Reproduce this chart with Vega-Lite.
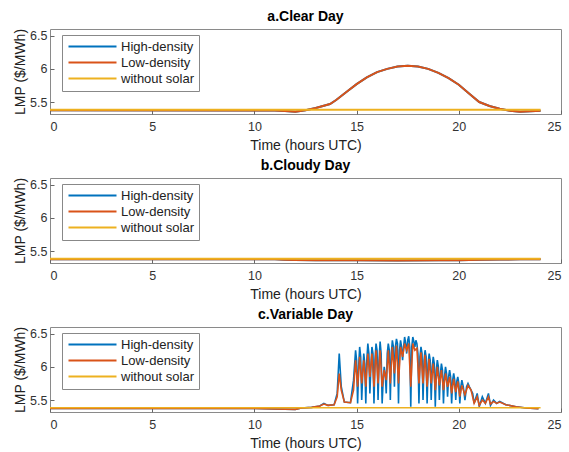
{
"$schema": "https://vega.github.io/schema/vega-lite/v6.json",
"padding": {"left": 13, "top": 9, "right": 0, "bottom": 0},
"background": "white",
"datasets": {
"clear": [
{"series":"High-density","time":0,"lmp":5.375},{"series":"High-density","time":11,"lmp":5.372},{"series":"High-density","time":11.5,"lmp":5.366},{"series":"High-density","time":12,"lmp":5.355},{"series":"High-density","time":12.5,"lmp":5.375},{"series":"High-density","time":13,"lmp":5.41},{"series":"High-density","time":13.7,"lmp":5.47},{"series":"High-density","time":14,"lmp":5.53},{"series":"High-density","time":14.5,"lmp":5.65},{"series":"High-density","time":15,"lmp":5.77},{"series":"High-density","time":15.5,"lmp":5.87},{"series":"High-density","time":16,"lmp":5.95},{"series":"High-density","time":16.5,"lmp":6.0},{"series":"High-density","time":17,"lmp":6.035},{"series":"High-density","time":17.5,"lmp":6.045},{"series":"High-density","time":18,"lmp":6.035},{"series":"High-density","time":18.5,"lmp":6.0},{"series":"High-density","time":19,"lmp":5.94},{"series":"High-density","time":19.5,"lmp":5.86},{"series":"High-density","time":20,"lmp":5.76},{"series":"High-density","time":20.5,"lmp":5.63},{"series":"High-density","time":21,"lmp":5.5},{"series":"High-density","time":21.5,"lmp":5.44},{"series":"High-density","time":22,"lmp":5.4},{"series":"High-density","time":22.5,"lmp":5.37},{"series":"High-density","time":23,"lmp":5.355},{"series":"High-density","time":23.5,"lmp":5.36},{"series":"High-density","time":24,"lmp":5.37},
{"series":"Low-density","time":0,"lmp":5.375},{"series":"Low-density","time":11,"lmp":5.372},{"series":"Low-density","time":11.5,"lmp":5.366},{"series":"Low-density","time":12,"lmp":5.355},{"series":"Low-density","time":12.5,"lmp":5.375},{"series":"Low-density","time":13,"lmp":5.41},{"series":"Low-density","time":13.7,"lmp":5.47},{"series":"Low-density","time":14,"lmp":5.53},{"series":"Low-density","time":14.5,"lmp":5.65},{"series":"Low-density","time":15,"lmp":5.77},{"series":"Low-density","time":15.5,"lmp":5.87},{"series":"Low-density","time":16,"lmp":5.95},{"series":"Low-density","time":16.5,"lmp":6.0},{"series":"Low-density","time":17,"lmp":6.035},{"series":"Low-density","time":17.5,"lmp":6.045},{"series":"Low-density","time":18,"lmp":6.035},{"series":"Low-density","time":18.5,"lmp":6.0},{"series":"Low-density","time":19,"lmp":5.94},{"series":"Low-density","time":19.5,"lmp":5.86},{"series":"Low-density","time":20,"lmp":5.76},{"series":"Low-density","time":20.5,"lmp":5.63},{"series":"Low-density","time":21,"lmp":5.5},{"series":"Low-density","time":21.5,"lmp":5.44},{"series":"Low-density","time":22,"lmp":5.4},{"series":"Low-density","time":22.5,"lmp":5.37},{"series":"Low-density","time":23,"lmp":5.355},{"series":"Low-density","time":23.5,"lmp":5.36},{"series":"Low-density","time":24,"lmp":5.37},
{"series":"without solar","time":0,"lmp":5.385},{"series":"without solar","time":24,"lmp":5.385}
],
"cloudy": [
{"series":"High-density","time":0,"lmp":5.378},{"series":"High-density","time":11,"lmp":5.375},{"series":"High-density","time":11.5,"lmp":5.37},{"series":"High-density","time":12,"lmp":5.365},{"series":"High-density","time":13,"lmp":5.362},{"series":"High-density","time":15,"lmp":5.36},{"series":"High-density","time":17,"lmp":5.358},{"series":"High-density","time":19,"lmp":5.36},{"series":"High-density","time":20,"lmp":5.363},{"series":"High-density","time":21,"lmp":5.368},{"series":"High-density","time":22,"lmp":5.373},{"series":"High-density","time":23,"lmp":5.376},{"series":"High-density","time":24,"lmp":5.378},
{"series":"Low-density","time":0,"lmp":5.378},{"series":"Low-density","time":11,"lmp":5.375},{"series":"Low-density","time":11.5,"lmp":5.37},{"series":"Low-density","time":12,"lmp":5.365},{"series":"Low-density","time":13,"lmp":5.362},{"series":"Low-density","time":15,"lmp":5.36},{"series":"Low-density","time":17,"lmp":5.358},{"series":"Low-density","time":19,"lmp":5.36},{"series":"Low-density","time":20,"lmp":5.363},{"series":"Low-density","time":21,"lmp":5.368},{"series":"Low-density","time":22,"lmp":5.373},{"series":"Low-density","time":23,"lmp":5.376},{"series":"Low-density","time":24,"lmp":5.378},
{"series":"without solar","time":0,"lmp":5.385},{"series":"without solar","time":24,"lmp":5.385}
],
"variable": [
{"series":"High-density","time":0,"lmp":5.375},{"series":"High-density","time":10,"lmp":5.372},{"series":"High-density","time":11,"lmp":5.366},{"series":"High-density","time":12,"lmp":5.36},{"series":"High-density","time":12.3,"lmp":5.38},{"series":"High-density","time":12.8,"lmp":5.39},{"series":"High-density","time":13.2,"lmp":5.41},{"series":"High-density","time":13.4,"lmp":5.45},{"series":"High-density","time":13.6,"lmp":5.42},{"series":"High-density","time":13.9,"lmp":5.43},{"series":"High-density","time":14.05,"lmp":5.6},{"series":"High-density","time":14.15,"lmp":6.2},{"series":"High-density","time":14.25,"lmp":5.7},{"series":"High-density","time":14.4,"lmp":5.47},{"series":"High-density","time":14.7,"lmp":5.46},{"series":"High-density","time":14.85,"lmp":5.8},{"series":"High-density","time":14.95,"lmp":6.25},{"series":"High-density","time":15.0,"lmp":6.1},{"series":"High-density","time":15.05,"lmp":5.45},{"series":"High-density","time":15.1,"lmp":6.0},{"series":"High-density","time":15.15,"lmp":6.3},{"series":"High-density","time":15.2,"lmp":6.15},{"series":"High-density","time":15.25,"lmp":5.5},{"series":"High-density","time":15.3,"lmp":5.9},{"series":"High-density","time":15.35,"lmp":6.2},{"series":"High-density","time":15.4,"lmp":6.05},{"series":"High-density","time":15.45,"lmp":5.45},{"series":"High-density","time":15.5,"lmp":6.1},{"series":"High-density","time":15.55,"lmp":6.35},{"series":"High-density","time":15.6,"lmp":6.2},{"series":"High-density","time":15.65,"lmp":5.6},{"series":"High-density","time":15.7,"lmp":6.0},{"series":"High-density","time":15.75,"lmp":6.3},{"series":"High-density","time":15.8,"lmp":6.2},{"series":"High-density","time":15.85,"lmp":5.45},{"series":"High-density","time":15.9,"lmp":6.1},{"series":"High-density","time":15.95,"lmp":6.35},{"series":"High-density","time":16.0,"lmp":6.25},{"series":"High-density","time":16.05,"lmp":5.5},{"series":"High-density","time":16.1,"lmp":6.1},{"series":"High-density","time":16.15,"lmp":6.38},{"series":"High-density","time":16.2,"lmp":6.2},{"series":"High-density","time":16.25,"lmp":5.45},{"series":"High-density","time":16.3,"lmp":5.8},{"series":"High-density","time":16.35,"lmp":6.0},{"series":"High-density","time":16.4,"lmp":5.9},{"series":"High-density","time":16.45,"lmp":5.6},{"series":"High-density","time":16.5,"lmp":6.2},{"series":"High-density","time":16.55,"lmp":6.35},{"series":"High-density","time":16.6,"lmp":6.25},{"series":"High-density","time":16.65,"lmp":5.5},{"series":"High-density","time":16.7,"lmp":6.2},{"series":"High-density","time":16.75,"lmp":6.4},{"series":"High-density","time":16.8,"lmp":6.3},{"series":"High-density","time":16.85,"lmp":5.7},{"series":"High-density","time":16.9,"lmp":6.3},{"series":"High-density","time":16.95,"lmp":6.42},{"series":"High-density","time":17.0,"lmp":6.35},{"series":"High-density","time":17.05,"lmp":5.45},{"series":"High-density","time":17.1,"lmp":6.25},{"series":"High-density","time":17.15,"lmp":6.4},{"series":"High-density","time":17.2,"lmp":6.3},{"series":"High-density","time":17.25,"lmp":6.1},{"series":"High-density","time":17.3,"lmp":6.3},{"series":"High-density","time":17.35,"lmp":6.45},{"series":"High-density","time":17.4,"lmp":6.35},{"series":"High-density","time":17.45,"lmp":6.2},{"series":"High-density","time":17.5,"lmp":6.4},{"series":"High-density","time":17.55,"lmp":6.46},{"series":"High-density","time":17.6,"lmp":6.3},{"series":"High-density","time":17.65,"lmp":5.4},{"series":"High-density","time":17.7,"lmp":6.3},{"series":"High-density","time":17.75,"lmp":6.45},{"series":"High-density","time":17.8,"lmp":6.38},{"series":"High-density","time":17.85,"lmp":6.3},{"series":"High-density","time":17.9,"lmp":6.4},{"series":"High-density","time":17.95,"lmp":6.35},{"series":"High-density","time":18.0,"lmp":6.2},{"series":"High-density","time":18.05,"lmp":5.45},{"series":"High-density","time":18.1,"lmp":6.15},{"series":"High-density","time":18.15,"lmp":6.3},{"series":"High-density","time":18.2,"lmp":6.2},{"series":"High-density","time":18.25,"lmp":5.5},{"series":"High-density","time":18.3,"lmp":6.1},{"series":"High-density","time":18.35,"lmp":6.25},{"series":"High-density","time":18.4,"lmp":6.15},{"series":"High-density","time":18.45,"lmp":5.45},{"series":"High-density","time":18.5,"lmp":6.05},{"series":"High-density","time":18.55,"lmp":6.2},{"series":"High-density","time":18.6,"lmp":6.1},{"series":"High-density","time":18.65,"lmp":5.5},{"series":"High-density","time":18.7,"lmp":6.0},{"series":"High-density","time":18.75,"lmp":6.15},{"series":"High-density","time":18.8,"lmp":6.05},{"series":"High-density","time":18.85,"lmp":5.4},{"series":"High-density","time":18.9,"lmp":5.95},{"series":"High-density","time":18.95,"lmp":6.1},{"series":"High-density","time":19.0,"lmp":6.0},{"series":"High-density","time":19.05,"lmp":5.5},{"series":"High-density","time":19.1,"lmp":5.9},{"series":"High-density","time":19.15,"lmp":6.05},{"series":"High-density","time":19.2,"lmp":5.95},{"series":"High-density","time":19.25,"lmp":5.45},{"series":"High-density","time":19.3,"lmp":5.85},{"series":"High-density","time":19.35,"lmp":6.0},{"series":"High-density","time":19.4,"lmp":5.9},{"series":"High-density","time":19.45,"lmp":5.55},{"series":"High-density","time":19.5,"lmp":5.85},{"series":"High-density","time":19.55,"lmp":5.95},{"series":"High-density","time":19.6,"lmp":5.85},{"series":"High-density","time":19.65,"lmp":5.45},{"series":"High-density","time":19.7,"lmp":5.8},{"series":"High-density","time":19.75,"lmp":5.9},{"series":"High-density","time":19.8,"lmp":5.8},{"series":"High-density","time":19.85,"lmp":5.5},{"series":"High-density","time":19.9,"lmp":5.78},{"series":"High-density","time":19.95,"lmp":5.85},{"series":"High-density","time":20.0,"lmp":5.75},{"series":"High-density","time":20.05,"lmp":5.45},{"series":"High-density","time":20.1,"lmp":5.7},{"series":"High-density","time":20.15,"lmp":5.8},{"series":"High-density","time":20.22,"lmp":5.7},{"series":"High-density","time":20.3,"lmp":5.5},{"series":"High-density","time":20.38,"lmp":5.7},{"series":"High-density","time":20.45,"lmp":5.75},{"series":"High-density","time":20.52,"lmp":5.7},{"series":"High-density","time":20.6,"lmp":5.65},{"series":"High-density","time":20.68,"lmp":5.6},{"series":"High-density","time":20.75,"lmp":5.45},{"series":"High-density","time":20.9,"lmp":5.6},{"series":"High-density","time":21.0,"lmp":5.4},{"series":"High-density","time":21.15,"lmp":5.55},{"series":"High-density","time":21.3,"lmp":5.45},{"series":"High-density","time":21.45,"lmp":5.6},{"series":"High-density","time":21.55,"lmp":5.42},{"series":"High-density","time":21.7,"lmp":5.5},{"series":"High-density","time":21.85,"lmp":5.45},{"series":"High-density","time":22.0,"lmp":5.48},{"series":"High-density","time":22.3,"lmp":5.43},{"series":"High-density","time":22.8,"lmp":5.4},{"series":"High-density","time":23.3,"lmp":5.38},{"series":"High-density","time":23.9,"lmp":5.37},
{"series":"Low-density","time":0,"lmp":5.375},{"series":"Low-density","time":10,"lmp":5.372},{"series":"Low-density","time":11,"lmp":5.366},{"series":"Low-density","time":12,"lmp":5.36},{"series":"Low-density","time":12.3,"lmp":5.38},{"series":"Low-density","time":12.8,"lmp":5.39},{"series":"Low-density","time":13.2,"lmp":5.41},{"series":"Low-density","time":13.4,"lmp":5.44},{"series":"Low-density","time":13.6,"lmp":5.42},{"series":"Low-density","time":13.9,"lmp":5.43},{"series":"Low-density","time":14.05,"lmp":5.55},{"series":"Low-density","time":14.15,"lmp":5.9},{"series":"Low-density","time":14.25,"lmp":5.65},{"series":"Low-density","time":14.4,"lmp":5.47},{"series":"Low-density","time":14.7,"lmp":5.46},{"series":"Low-density","time":14.85,"lmp":5.65},{"series":"Low-density","time":14.95,"lmp":6.1},{"series":"Low-density","time":15.05,"lmp":5.7},{"series":"Low-density","time":15.15,"lmp":6.15},{"series":"Low-density","time":15.25,"lmp":5.75},{"series":"Low-density","time":15.35,"lmp":6.1},{"series":"Low-density","time":15.45,"lmp":5.7},{"series":"Low-density","time":15.55,"lmp":6.2},{"series":"Low-density","time":15.65,"lmp":5.85},{"series":"Low-density","time":15.75,"lmp":6.2},{"series":"Low-density","time":15.85,"lmp":5.7},{"series":"Low-density","time":15.95,"lmp":6.25},{"series":"Low-density","time":16.05,"lmp":5.75},{"series":"Low-density","time":16.15,"lmp":6.25},{"series":"Low-density","time":16.25,"lmp":5.7},{"series":"Low-density","time":16.35,"lmp":5.95},{"series":"Low-density","time":16.45,"lmp":5.8},{"series":"Low-density","time":16.55,"lmp":6.25},{"series":"Low-density","time":16.65,"lmp":5.75},{"series":"Low-density","time":16.75,"lmp":6.3},{"series":"Low-density","time":16.85,"lmp":5.9},{"series":"Low-density","time":16.95,"lmp":6.32},{"series":"Low-density","time":17.05,"lmp":5.75},{"series":"Low-density","time":17.15,"lmp":6.3},{"series":"Low-density","time":17.25,"lmp":6.15},{"series":"Low-density","time":17.35,"lmp":6.35},{"series":"Low-density","time":17.45,"lmp":6.25},{"series":"Low-density","time":17.55,"lmp":6.35},{"series":"Low-density","time":17.65,"lmp":5.7},{"series":"Low-density","time":17.75,"lmp":6.35},{"series":"Low-density","time":17.85,"lmp":6.25},{"series":"Low-density","time":17.95,"lmp":6.28},{"series":"Low-density","time":18.05,"lmp":5.75},{"series":"Low-density","time":18.15,"lmp":6.22},{"series":"Low-density","time":18.25,"lmp":5.75},{"series":"Low-density","time":18.35,"lmp":6.18},{"series":"Low-density","time":18.45,"lmp":5.7},{"series":"Low-density","time":18.55,"lmp":6.12},{"series":"Low-density","time":18.65,"lmp":5.75},{"series":"Low-density","time":18.75,"lmp":6.05},{"series":"Low-density","time":18.85,"lmp":5.65},{"series":"Low-density","time":18.95,"lmp":6.0},{"series":"Low-density","time":19.05,"lmp":5.72},{"series":"Low-density","time":19.15,"lmp":5.95},{"series":"Low-density","time":19.25,"lmp":5.65},{"series":"Low-density","time":19.35,"lmp":5.9},{"series":"Low-density","time":19.45,"lmp":5.7},{"series":"Low-density","time":19.55,"lmp":5.85},{"series":"Low-density","time":19.65,"lmp":5.6},{"series":"Low-density","time":19.75,"lmp":5.82},{"series":"Low-density","time":19.85,"lmp":5.62},{"series":"Low-density","time":19.95,"lmp":5.78},{"series":"Low-density","time":20.05,"lmp":5.55},{"series":"Low-density","time":20.15,"lmp":5.72},{"series":"Low-density","time":20.3,"lmp":5.58},{"series":"Low-density","time":20.45,"lmp":5.72},{"series":"Low-density","time":20.6,"lmp":5.65},{"series":"Low-density","time":20.75,"lmp":5.45},{"series":"Low-density","time":20.9,"lmp":5.55},{"series":"Low-density","time":21.0,"lmp":5.42},{"series":"Low-density","time":21.15,"lmp":5.5},{"series":"Low-density","time":21.3,"lmp":5.45},{"series":"Low-density","time":21.45,"lmp":5.55},{"series":"Low-density","time":21.55,"lmp":5.44},{"series":"Low-density","time":21.7,"lmp":5.48},{"series":"Low-density","time":21.85,"lmp":5.45},{"series":"Low-density","time":22.0,"lmp":5.47},{"series":"Low-density","time":22.3,"lmp":5.43},{"series":"Low-density","time":22.8,"lmp":5.4},{"series":"Low-density","time":23.3,"lmp":5.38},{"series":"Low-density","time":23.9,"lmp":5.37},
{"series":"without solar","time":0,"lmp":5.385},{"series":"without solar","time":24,"lmp":5.385}
]
},
"vconcat": [
{"title": "a.Clear Day", "width": 511, "height": 85, "data": {"name": "clear"},
 "mark": {"type": "line", "strokeWidth": 2, "clip": true},
 "encoding": {
  "x": {"field": "time", "type": "quantitative", "scale": {"domain": [0, 25], "nice": false}, "axis": {"values": [0,5,10,15,20,25], "title": "Time (hours UTC)"}},
  "y": {"field": "lmp", "type": "quantitative", "scale": {"domain": [5.32, 6.6], "nice": false, "zero": false}, "axis": {"values": [5.5, 6, 6.5], "labelExpr": "'' + datum.value", "title": "LMP ($/MWh)", "labelPadding": 7, "titlePadding": 2}},
  "color": {"field": "series", "type": "nominal", "scale": {"domain": ["High-density", "Low-density", "without solar"], "range": ["#0072BD", "#D95319", "#EDB120"]}, "legend": {"orient": "none", "legendX": 12, "legendY": 6, "title": null}}
 }},
{"title": "b.Cloudy Day", "width": 511, "height": 85, "data": {"name": "cloudy"},
 "mark": {"type": "line", "strokeWidth": 2, "clip": true},
 "encoding": {
  "x": {"field": "time", "type": "quantitative", "scale": {"domain": [0, 25], "nice": false}, "axis": {"values": [0,5,10,15,20,25], "title": "Time (hours UTC)"}},
  "y": {"field": "lmp", "type": "quantitative", "scale": {"domain": [5.32, 6.6], "nice": false, "zero": false}, "axis": {"values": [5.5, 6, 6.5], "labelExpr": "'' + datum.value", "title": "LMP ($/MWh)", "labelPadding": 7, "titlePadding": 2}},
  "color": {"field": "series", "type": "nominal", "scale": {"domain": ["High-density", "Low-density", "without solar"], "range": ["#0072BD", "#D95319", "#EDB120"]}, "legend": {"orient": "none", "legendX": 12, "legendY": 6, "title": null}}
 }},
{"title": "c.Variable Day", "width": 511, "height": 85, "data": {"name": "variable"},
 "mark": {"type": "line", "strokeWidth": 1.6, "clip": true},
 "encoding": {
  "x": {"field": "time", "type": "quantitative", "scale": {"domain": [0, 25], "nice": false}, "axis": {"values": [0,5,10,15,20,25], "title": "Time (hours UTC)"}},
  "y": {"field": "lmp", "type": "quantitative", "scale": {"domain": [5.32, 6.6], "nice": false, "zero": false}, "axis": {"values": [5.5, 6, 6.5], "labelExpr": "'' + datum.value", "title": "LMP ($/MWh)", "labelPadding": 7, "titlePadding": 2}},
  "color": {"field": "series", "type": "nominal", "scale": {"domain": ["High-density", "Low-density", "without solar"], "range": ["#0072BD", "#D95319", "#EDB120"]}, "legend": {"orient": "none", "legendX": 12, "legendY": 6, "title": null}}
 }}
],
"spacing": 5,
"resolve": {"legend": {"color": "independent"}},
"config": {
 "font": "Liberation Sans",
 "view": {"stroke": "#8a8a8a", "strokeWidth": 1},
 "axis": {"grid": false, "domain": false, "tickColor": "#666", "tickSize": -4, "labelFontSize": 12.5, "labelColor": "#333", "titleFontSize": 14, "titleFontWeight": "normal", "titleColor": "#222"},
 "axisX": {"labelPadding": 10, "titlePadding": 6},
 "title": {"fontSize": 14, "fontWeight": "bold", "color": "#000", "offset": 4},
 "legend": {"symbolType": "M-1,0H8.6", "symbolSize": 100, "symbolStrokeWidth": 2, "labelFontSize": 13, "labelColor": "#222", "padding": 5, "strokeColor": "#888", "fillColor": "white", "rowPadding": 2, "labelOffset": 41, "cornerRadius": 0}
}
}
